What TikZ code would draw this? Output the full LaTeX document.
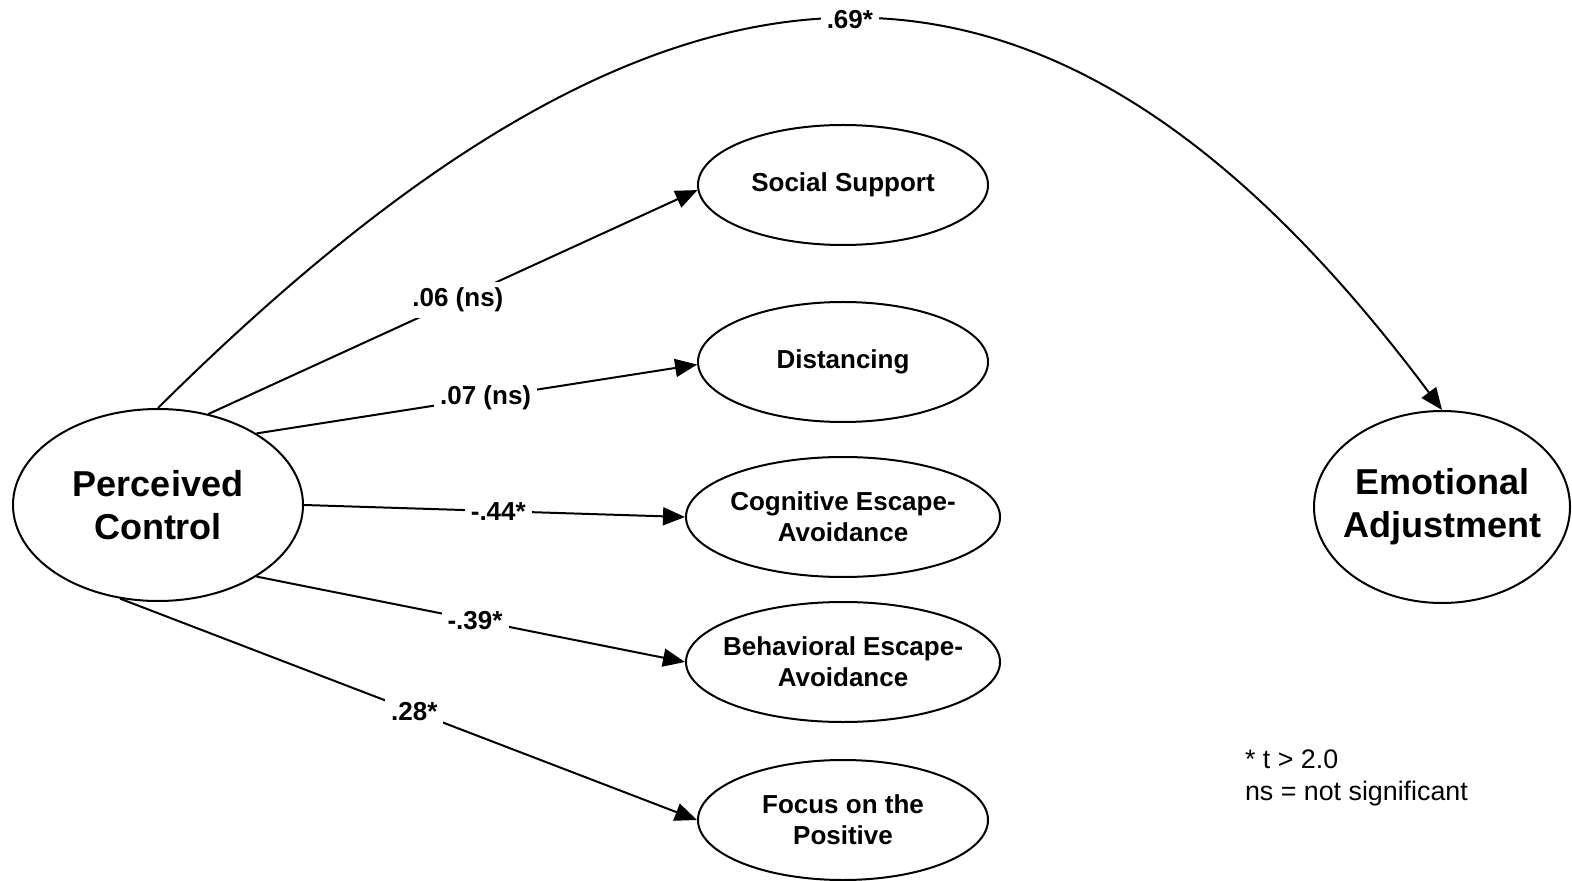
\documentclass[tikz,border=0pt]{standalone}
\usepackage{fontspec}
\setmainfont{Liberation Sans}
\usetikzlibrary{shapes.geometric,arrows.meta}
\begin{document}
\begin{tikzpicture}[x=0.5pt,y=-0.5pt,
  oval/.style={ellipse,draw,line width=1pt,inner sep=0pt},
  bigtext/.style={font=\fontsize{18}{21.5}\selectfont\bfseries,align=center},
  smalltext/.style={font=\fontsize{13}{15.5}\selectfont\bfseries,align=center},
  link/.style={draw,line width=1pt,-{Triangle[length=11pt,width=9pt]}},
  coef/.style={fill=white,inner sep=3pt,font=\fontsize{13}{15.5}\selectfont\bfseries}
]
\useasboundingbox (0,0) rectangle (1572,881);

% latent constructs
\node[oval,minimum width=145pt,minimum height=96pt,
  label={[bigtext]center:Perceived\\Control}] (pc) at (158,505) {};
\node[oval,minimum width=128pt,minimum height=96pt,
  label={[bigtext]center:Emotional\\Adjustment}] (ea) at (1442,507) {};

% coping strategies
\node[oval,minimum width=145pt,minimum height=60pt,
  label={[smalltext]center:Social Support}] (ss) at (843,185) {};
\node[oval,minimum width=145pt,minimum height=60pt,
  label={[smalltext]center:Distancing}] (dist) at (843,362) {};
\node[oval,minimum width=157pt,minimum height=60pt,
  label={[smalltext]center:Cognitive Escape-\\Avoidance}] (cea) at (843,517) {};
\node[oval,minimum width=157pt,minimum height=60pt,
  label={[smalltext]center:Behavioral Escape-\\Avoidance}] (bea) at (843,662) {};
\node[oval,minimum width=145pt,minimum height=60pt,
  label={[smalltext]center:Focus on the\\Positive}] (fop) at (843,820) {};

% paths with coefficients
\draw[link] (pc.61) -- node[coef,pos=0.51]{.06 (ns)} (ss.182);
\draw[link] (pc.36) -- node[coef,pos=0.52]{.07 (ns)} (dist.181);
\draw[link] (pc.east) -- node[coef,pos=0.51]{-.44*} (cea.west);
\draw[link] (pc.-36) -- node[coef,pos=0.51]{-.39*} (bea.west);
\draw[link] (pc.248) -- node[coef,pos=0.51]{.28*} (fop.west);

\draw[link] (pc.north) .. controls (680,-110) and (1053,-110) ..
  node[coef,pos=0.5]{.69*} (ea.north);

% legend
\node[anchor=west,align=left,font=\fontsize{13.4}{16}\selectfont] (legend)
  at (1238,778) {* t > 2.0\\ns = not significant};
\end{tikzpicture}
\end{document}
